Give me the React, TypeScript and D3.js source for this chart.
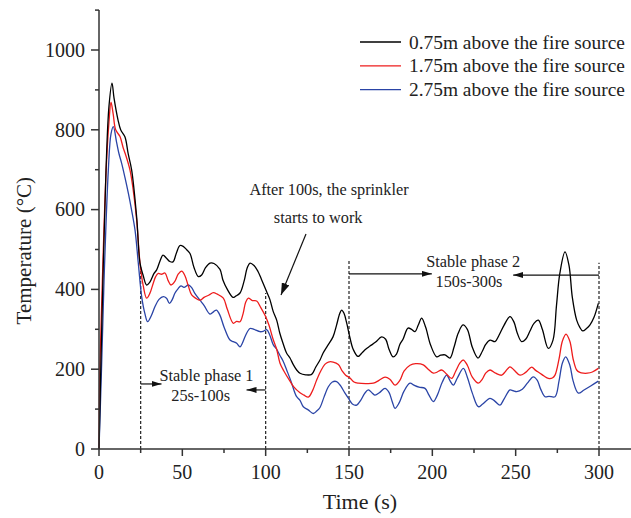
import React, { useEffect, useRef } from "react";
import * as d3 from "d3";

// series: [time (s), temperature (°C)]
const series075: [number, number][] = [
  [0, 0], [2, 366], [4.2, 699], [6, 860], [7.8, 917], [9, 880], [11.4, 825], [13, 800], [15.6, 782],
  [17.5, 740], [19.6, 699], [22.6, 581], [24.6, 466], [26.5, 435], [28.6, 411], [30.5, 418], [33, 440],
  [34.6, 449], [36.5, 470], [38.4, 486], [40.5, 478], [42.5, 470], [44.4, 469], [46.5, 492], [48.6, 510],
  [50.5, 508], [52.5, 500], [54.6, 490], [57, 455], [59.6, 432], [61.6, 436], [64, 455], [66.6, 466],
  [69, 465], [72.6, 450], [74.4, 423], [77, 400], [80.4, 380], [82, 383], [84.6, 391], [87, 420],
  [89, 455], [90.6, 466], [93, 460], [95.4, 445], [97.5, 425], [100.6, 394], [102.5, 375], [104.5, 345],
  [106.6, 323], [108.5, 290], [110.4, 265], [112.6, 240], [114.6, 228], [116.5, 212], [118.6, 198],
  [120.6, 190], [124, 186], [127.6, 187], [130, 205], [132.6, 223], [134.4, 240], [137, 258],
  [140.4, 281], [142.5, 310], [144.5, 340], [145.6, 348], [147, 340], [148.6, 316], [150.5, 280],
  [152.5, 250], [155.4, 232], [158, 242], [160, 250], [162.6, 258], [166, 268], [169.6, 281], [172, 275],
  [174, 250], [176.4, 231], [178.5, 238], [180.5, 262], [182.4, 275], [185.4, 303], [187.5, 300],
  [189.6, 294], [191.5, 310], [193.6, 328], [196, 305], [199, 260], [202.6, 231], [205, 235],
  [207.6, 236], [210.6, 228], [213, 255], [215.5, 290], [218.4, 311], [221, 300], [224, 255],
  [227.4, 228], [230, 245], [232, 262], [234.6, 273], [237.6, 269], [240, 285], [243, 310], [246.6, 332],
  [249, 318], [251, 290], [253.6, 269], [256, 275], [258.5, 295], [261, 315], [263.6, 323], [266, 300],
  [269.6, 252], [272.4, 273], [274.5, 360], [276.5, 440], [279.6, 494], [282, 460], [284, 380],
  [286.6, 323], [288.5, 305], [290.2, 296], [292.5, 302], [294.6, 311], [297, 330], [299.6, 365],
];

const series175: [number, number][] = [
  [0, 0], [0.5, 200], [2, 420], [4.2, 690], [6, 820], [7.2, 869], [8.5, 840], [10, 800], [12.6, 783],
  [14.5, 755], [16, 737], [18.6, 699], [20.5, 650], [22.6, 574], [24.6, 466], [26.5, 410], [28.6, 378],
  [30.5, 390], [32.5, 415], [34, 432], [35.6, 440], [37.5, 438], [39.6, 441], [41.5, 422], [43.2, 411],
  [45.5, 420], [47.5, 438], [49.6, 446], [51.5, 435], [53.5, 410], [55.6, 386], [58, 378], [60.6, 373],
  [63, 380], [66, 386], [68.6, 392], [71, 388], [74.6, 378], [77, 350], [80.6, 315], [82.5, 320],
  [84.6, 319], [86.5, 340], [88, 368], [89.6, 378], [92, 372], [94.6, 371], [97, 355], [99.6, 335],
  [102, 310], [104.6, 273], [106.6, 250], [108.6, 215], [111, 195], [114.6, 170], [117, 155],
  [120.6, 141], [123, 135], [125.6, 130], [128, 145], [130.6, 173], [133, 195], [135.5, 212],
  [137.6, 218], [140.5, 218], [143.6, 212], [146, 195], [148, 185], [150.6, 178], [153, 168],
  [155.6, 165], [160, 164], [164.6, 165], [168, 172], [171.6, 180], [174.5, 175], [177.6, 160],
  [180.5, 172], [183, 195], [186.6, 210], [190, 214], [194.6, 211], [197.5, 200], [200.6, 190],
  [203, 193], [205.6, 198], [208.5, 188], [211.6, 177], [214, 195], [216.5, 215], [218.6, 223],
  [221, 210], [224, 180], [227.6, 165], [230, 175], [232, 190], [234.6, 198], [238, 190], [241.6, 185],
  [244, 195], [246.6, 206], [249, 198], [252.6, 185], [256, 192], [259.6, 205], [262, 197], [264.6, 190],
  [267, 183], [269.6, 177], [272, 178], [273.6, 185], [276, 225], [278, 270], [280.2, 288], [282.5, 270],
  [284.5, 225], [286.6, 198], [288.5, 192], [290.6, 190], [293, 190], [296, 193], [299.6, 202],
];

const series275: [number, number][] = [
  [0, 0], [1.5, 200], [3, 420], [5.6, 699], [7.2, 790], [8.6, 808], [10.5, 770], [12, 740], [13.6, 716],
  [15.6, 680], [17.6, 641], [19.5, 600], [21.6, 549], [23.6, 465], [25.6, 382], [27.5, 340], [29.2, 319],
  [31.5, 335], [33.6, 357], [36, 375], [38.6, 382], [40.5, 378], [42.3, 365], [44, 375], [45.6, 391],
  [47.5, 402], [49.2, 409], [51, 405], [53.6, 411], [55.5, 405], [57.5, 390], [60.6, 373], [63, 360],
  [66.6, 338], [69, 345], [70.5, 348], [72.6, 335], [75, 306], [78.6, 273], [80.6, 269], [82.6, 265],
  [84.6, 256], [86, 265], [88, 285], [90.6, 302], [93, 300], [96.6, 294], [98.5, 295], [100.6, 299],
  [102.5, 285], [104.6, 261], [106.6, 250], [108.5, 235], [110.5, 220], [112.6, 198], [115, 172],
  [117.6, 140], [118.6, 131], [120.6, 122], [122.6, 106], [125.5, 98], [128.6, 89], [130.6, 95],
  [132.6, 104], [135, 130], [137.6, 156], [140, 168], [142.6, 169], [145, 158], [147.6, 140], [150, 125],
  [152, 113], [154.6, 110], [157, 122], [159.5, 140], [161.6, 148], [164, 140], [165.6, 135],
  [168.5, 142], [171.6, 152], [174, 142], [176, 118], [177.6, 102], [180, 115], [183, 145], [186.6, 165],
  [189, 160], [192, 155], [195.6, 152], [198, 135], [200.6, 119], [203, 135], [206, 168], [208.6, 185],
  [210.5, 172], [212.6, 160], [215, 178], [218.6, 202], [221, 180], [224, 140], [227.6, 106], [230, 112],
  [234.6, 127], [237.5, 120], [240.6, 110], [243, 125], [246.6, 148], [248.5, 146], [250.6, 144],
  [254, 150], [257, 165], [260.6, 181], [263, 172], [265, 150], [267.6, 131], [270, 132], [273.6, 131],
  [276, 170], [278, 215], [280, 231], [282.5, 210], [284.5, 170], [287.6, 140], [291, 148], [295, 158],
  [299.6, 170],
];

const seriesNames = [
  "0.75m above the fire source",
  "1.75m above the fire source",
  "2.75m above the fire source",
];
const seriesColors = ["#000000", "#ee1c1c", "#2a44a6"];

const xTicks = [0, 50, 100, 150, 200, 250, 300];
const yTicks = [0, 200, 400, 600, 800, 1000];

// dashed phase boundaries: time and how high the dashes reach (°C)
const phaseBounds = [
  { t: 25, top: 456 },
  { t: 100, top: 391 },
  { t: 150, top: 474 },
  { t: 300, top: 467 },
];

const FONT = "'Liberation Serif', 'Times New Roman', serif";

const App = () => {
  const svgRef = useRef<SVGSVGElement>(null);

  useEffect(() => {
    const width = 631;
    const height = 518;
    const margin = { left: 99, bottom: 69 };

    d3.select(svgRef.current).selectAll("*").remove();
    const svg = d3.select(svgRef.current)
      .attr("width", width)
      .attr("height", height);

    const x = d3.scaleLinear().domain([0, 300]).range([margin.left, 599]);
    const y = d3.scaleLinear().domain([0, 1000]).range([height - margin.bottom, 50]);

    const defs = svg.append("defs");
    defs.append("marker")
      .attr("id", "head")
      .attr("viewBox", "0 0 10 6")
      .attr("refX", 10)
      .attr("refY", 3)
      .attr("markerWidth", 10)
      .attr("markerHeight", 6)
      .attr("markerUnits", "userSpaceOnUse")
      .attr("orient", "auto")
      .append("path")
      .attr("d", "M0,0 L10,3 L0,6 Z")
      .attr("fill", "#111");
    defs.append("marker")
      .attr("id", "bighead")
      .attr("viewBox", "0 0 12 8")
      .attr("refX", 12)
      .attr("refY", 4)
      .attr("markerWidth", 12)
      .attr("markerHeight", 8)
      .attr("markerUnits", "userSpaceOnUse")
      .attr("orient", "auto")
      .append("path")
      .attr("d", "M0,0 L12,4 L0,8 Z")
      .attr("fill", "#111");

    // dashed phase lines
    phaseBounds.forEach((p) => {
      svg.append("line")
        .attr("x1", x(p.t)).attr("x2", x(p.t))
        .attr("y1", y(0)).attr("y2", y(p.top))
        .attr("stroke", "#222")
        .attr("stroke-width", 1.2)
        .attr("stroke-dasharray", "3,2");
    });

    // curves
    const line = d3.line<[number, number]>()
      .x((d) => x(d[0]))
      .y((d) => y(d[1]))
      .curve(d3.curveCatmullRom.alpha(0.5));

    [series075, series175, series275].slice().reverse().forEach((s, i) => {
      svg.append("path")
        .datum(s)
        .attr("d", line)
        .attr("fill", "none")
        .attr("stroke", seriesColors[2 - i])
        .attr("stroke-width", 1.3);
    });

    // axes
    const axisColor = "#333";
    const gx = svg.append("g").attr("transform", `translate(0,${y(0)})`);
    gx.append("line")
      .attr("x1", x(0)).attr("x2", x(320))
      .attr("stroke", axisColor).attr("stroke-width", 1.5);
    d3.range(0, 325, 25).forEach((t) => {
      const major = t % 50 === 0;
      gx.append("line")
        .attr("x1", x(t)).attr("x2", x(t))
        .attr("y1", 0).attr("y2", major ? 7 : 4)
        .attr("stroke", axisColor).attr("stroke-width", 1.5);
    });
    xTicks.forEach((t) => {
      gx.append("text")
        .attr("x", x(t)).attr("y", 30)
        .attr("text-anchor", "middle")
        .attr("font-family", FONT).attr("font-size", 20)
        .attr("fill", "#222")
        .text(t);
    });

    const gy = svg.append("g").attr("transform", `translate(${x(0)},0)`);
    gy.append("line")
      .attr("y1", y(0)).attr("y2", y(1100))
      .attr("stroke", axisColor).attr("stroke-width", 1.5);
    d3.range(0, 1200, 100).forEach((v) => {
      const major = v % 200 === 0;
      gy.append("line")
        .attr("x1", major ? -8 : -4).attr("x2", 0)
        .attr("y1", y(v)).attr("y2", y(v))
        .attr("stroke", axisColor).attr("stroke-width", 1.5);
    });
    yTicks.forEach((v) => {
      gy.append("text")
        .attr("x", -14).attr("y", y(v))
        .attr("dy", "0.34em")
        .attr("text-anchor", "end")
        .attr("font-family", FONT).attr("font-size", 20)
        .attr("fill", "#222")
        .text(v);
    });

    // axis titles
    svg.append("text")
      .attr("x", 360).attr("y", 509)
      .attr("text-anchor", "middle")
      .attr("font-family", FONT).attr("font-size", 22)
      .attr("fill", "#222")
      .text("Time (s)");
    svg.append("text")
      .attr("transform", `translate(31,${y(497)}) rotate(-90)`)
      .attr("text-anchor", "middle")
      .attr("font-family", FONT).attr("font-size", 21)
      .attr("fill", "#222")
      .text("Temperature (°C)");

    // legend
    seriesNames.forEach((name, i) => {
      const ly = 42 + i * 23.8;
      svg.append("line")
        .attr("x1", 360).attr("x2", 401)
        .attr("y1", ly).attr("y2", ly)
        .attr("stroke", seriesColors[i]).attr("stroke-width", 1.3);
      svg.append("text")
        .attr("x", 409).attr("y", ly)
        .attr("dy", "0.34em")
        .attr("font-family", FONT).attr("font-size", 19.4)
        .attr("fill", "#222")
        .text(name);
    });

    // annotations
    const note = (tx: number, ty: number, s: string) =>
      svg.append("text")
        .attr("x", tx).attr("y", ty)
        .attr("text-anchor", "middle")
        .attr("font-family", FONT).attr("font-size", 16.3)
        .attr("fill", "#222")
        .text(s);

    note(x(138), 195, "After 100s, the sprinkler");
    note(x(131.5), 222.5, "starts to work");
    svg.append("line")
      .attr("x1", 306).attr("y1", 234)
      .attr("x2", 281).attr("y2", 295)
      .attr("stroke", "#111").attr("stroke-width", 1.2)
      .attr("marker-end", "url(#bighead)");

    note(x(64.5), 381, "Stable phase 1");
    note(x(61), 401, "25s-100s");
    svg.append("line")
      .attr("x1", x(25)).attr("x2", x(37.5))
      .attr("y1", y(163)).attr("y2", y(163))
      .attr("stroke", "#111").attr("stroke-width", 1.2)
      .attr("marker-end", "url(#head)");
    svg.append("line")
      .attr("x1", x(100)).attr("x2", x(88.5))
      .attr("y1", y(148)).attr("y2", y(148))
      .attr("stroke", "#111").attr("stroke-width", 1.2)
      .attr("marker-end", "url(#head)");

    note(x(224.5), 267, "Stable phase 2");
    note(x(222), 287, "150s-300s");
    svg.append("line")
      .attr("x1", x(150)).attr("x2", x(199.7))
      .attr("y1", y(439)).attr("y2", y(439))
      .attr("stroke", "#111").attr("stroke-width", 1.2)
      .attr("marker-end", "url(#head)");
    svg.append("line")
      .attr("x1", x(300)).attr("x2", x(248.5))
      .attr("y1", y(436)).attr("y2", y(436))
      .attr("stroke", "#111").attr("stroke-width", 1.2)
      .attr("marker-end", "url(#head)");
  }, []);

  return (
    <svg
      ref={svgRef}
      style={{ position: "absolute", left: 0, top: 0, display: "block", background: "#fff" }}
    ></svg>
  );
};

export default App;
